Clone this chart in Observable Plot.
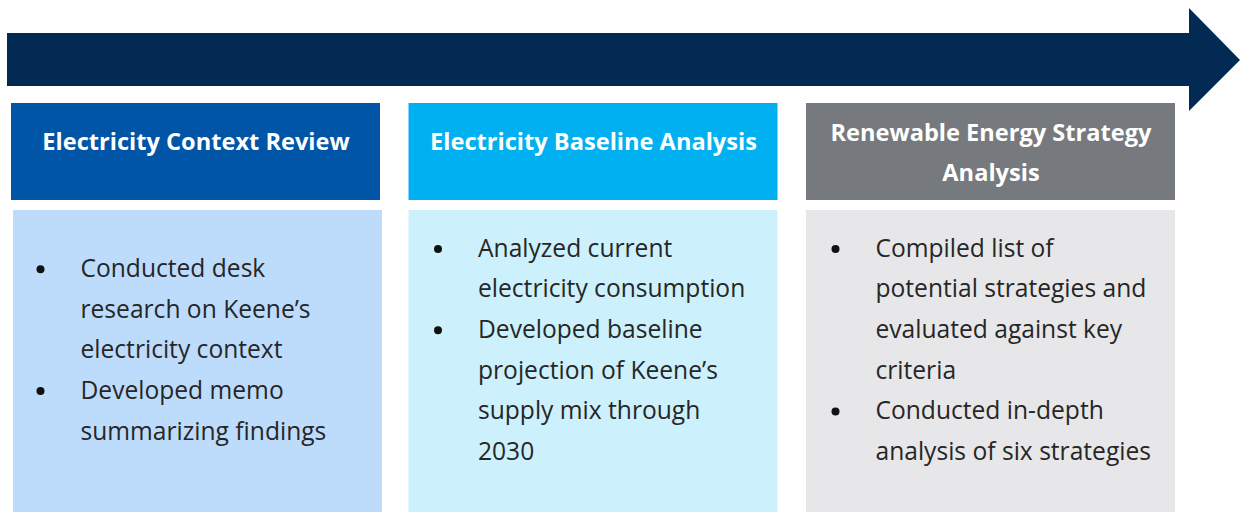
<!DOCTYPE html>
<html>
<head>
<meta charset="utf-8">
<script src="https://cdn.jsdelivr.net/npm/d3@7"></script>
<script src="https://cdn.jsdelivr.net/npm/@observablehq/plot@0.6"></script>
<style>
  html, body { margin: 0; padding: 0; background: #ffffff; }
  #chart svg { display: block; }
</style>
</head>
<body>
<div id="chart"></div>
<script>
// ---- data ----
const stages = ["Electricity Context Review", "Electricity Baseline Analysis", "Renewable Energy Strategy Analysis"];
const stageTitleLines = [
  ["Electricity Context Review"],
  ["Electricity Baseline Analysis"],
  ["Renewable Energy Strategy", "Analysis"]
];
const stageBullets = [
  [["Conducted desk", "research on Keene’s", "electricity context"], ["Developed memo", "summarizing findings"]],
  [["Analyzed current", "electricity consumption"], ["Developed baseline", "projection of Keene’s", "supply mix through", "2030"]],
  [["Compiled list of", "potential strategies and", "evaluated against key", "criteria"], ["Conducted in-depth", "analysis of six strategies"]]
];
const headerColors = ["#0055a6", "#00b0f0", "#767a7e"];
const bodyColors = ["#bddcfc", "#ccf1fc", "#e7e7e9"];

// ---- layout (derived) ----
const W = 1241, H = 512;
const colX = i => 11 + i * 397.5;
const colW = 369;
const lineH = 40.6;
const bodyCenter = 350;

const headers = stages.map((s, i) => ({i, x1: colX(i), x2: colX(i) + colW, y1: 103, y2: 200}));
const bodies = stages.map((s, i) => ({i, x1: colX(i) + (i === 0 ? 2 : 0), x2: colX(i) + colW + (i === 0 ? 2 : 0), y1: 210, y2: H}));

const titleTexts = [];
stageTitleLines.forEach((lines, i) => {
  const n = lines.length;
  lines.forEach((t, k) => titleTexts.push({text: t, x: colX(i) + colW / 2, y: n === 1 ? 142 : 133 + k * 40}));
});

const bodyTexts = [], bulletDots = [];
stageBullets.forEach((items, i) => {
  const total = items.reduce((a, b) => a + b.length, 0);
  let y0 = bodyCenter - (total - 1) * lineH / 2;
  let k = 0;
  items.forEach(lines => {
    bulletDots.push({x: colX(i) + 29, y: y0 + k * lineH});
    lines.forEach(t => { bodyTexts.push({text: t, x: colX(i) + 69, y: y0 + k * lineH}); k++; });
  });
});

const shaft = [{x1: 7, x2: 1190, y1: 33, y2: 86}];
const head = [{x: 1189, a: 8, b: 111}, {x: 1240, a: 60, b: 60}];

const plot = Plot.plot({
  width: W, height: H,
  margin: 0,
  x: {domain: [0, W], range: [0, W], axis: null},
  y: {domain: [0, H], range: [0, H], axis: null},
  style: {background: "#ffffff"},
  marks: [
    Plot.rect(shaft, {x1: "x1", x2: "x2", y1: "y1", y2: "y2", fill: "#022a52"}),
    Plot.areaY(head, {x: "x", y1: "a", y2: "b", fill: "#022a52", curve: "linear"}),
    Plot.rect(headers, {x1: "x1", x2: "x2", y1: "y1", y2: "y2", fill: d => headerColors[d.i]}),
    Plot.rect(bodies, {x1: "x1", x2: "x2", y1: "y1", y2: "y2", fill: d => bodyColors[d.i]}),
    Plot.text(titleTexts, {x: "x", y: "y", text: "text", fill: "#ffffff", fontSize: 23.6, fontWeight: "bold",
      fontFamily: "Open Sans", textAnchor: "middle", lineAnchor: "middle"}),
    Plot.dot(bulletDots, {x: "x", y: "y", r: 4, fill: "#111111", stroke: null}),
    Plot.text(bodyTexts, {x: "x", y: "y", text: "text", fill: "#262626", fontSize: 24.6,
      fontFamily: "Open Sans", textAnchor: "start", lineAnchor: "middle"})
  ]
});
document.getElementById("chart").appendChild(plot);
</script>
</body>
</html>
